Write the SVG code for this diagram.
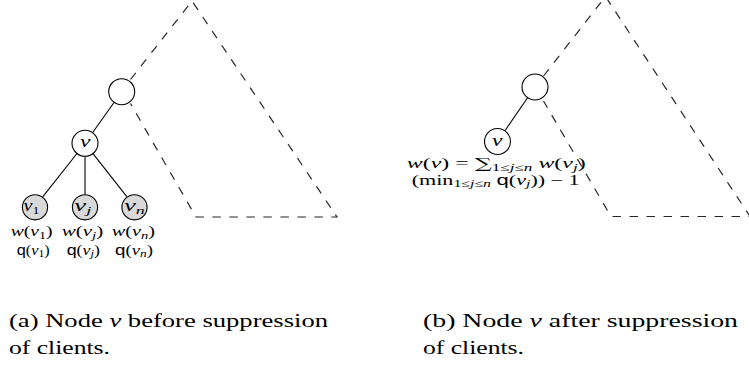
<svg xmlns="http://www.w3.org/2000/svg" width="749" height="366" viewBox="0 0 749 366">
<style>
.solid{stroke:#000;stroke-width:1.1;fill:none}
.dash{stroke:#262626;stroke-width:1.2;fill:none;stroke-dasharray:8.5 8.5}
.node{fill:#fff;stroke:#000;stroke-width:1.1}
.leaf{fill:#d9d9d9;stroke:#000;stroke-width:1.1}
text{font-family:"Liberation Serif","DejaVu Serif",serif;fill:#000}
.i{font-style:italic}
.sf{font-family:"Liberation Sans","DejaVu Sans",sans-serif;font-style:normal}
.lbl{font-size:14px}
.nl{font-size:16px}
.cap{font-size:19px}
</style>
<rect width="749" height="366" fill="#fff"/>
<g id="connectors">
  <path class="dash" d="M130.5,79.5 L192,1 L337,217 L196,217 L130.5,103.5"/>
  <path class="dash" d="M543.5,76 L605.5,-3.5 L750,216.5 L611,216.5 L543.5,101"/>
  <line class="solid" x1="114.2" y1="102.3" x2="92.5" y2="132.7"/>
  <line class="solid" x1="77" y1="153.5" x2="42.7" y2="196.8"/>
  <line class="solid" x1="85" y1="156.3" x2="85" y2="194.5"/>
  <line class="solid" x1="93" y1="153.6" x2="126.8" y2="196.7"/>
  <line class="solid" x1="527.6" y1="97.7" x2="504.9" y2="130.8"/>
</g>
<g id="a-parent"><circle class="node" cx="121.7" cy="91.7" r="13"/></g>
<g id="a-v">
  <circle class="node" cx="85" cy="143.3" r="13"/>
  <text class="nl i" x="80" y="147.3" textLength="10.5" lengthAdjust="spacingAndGlyphs">v</text>
</g>
<g id="a-v1">
  <circle class="leaf" cx="35" cy="207.3" r="12.6"/>
  <text class="nl" x="23.5" y="211" textLength="16" lengthAdjust="spacingAndGlyphs"><tspan class="i">v</tspan><tspan font-size="11" dy="2.5">1</tspan></text>
  <text class="lbl" x="10.7" y="236" textLength="42" lengthAdjust="spacingAndGlyphs"><tspan class="i">w</tspan>(<tspan class="i">v</tspan><tspan font-size="10" dy="2.5">1</tspan><tspan dy="-2.5">)</tspan></text>
  <text class="lbl" x="16.7" y="254.5" textLength="33" lengthAdjust="spacingAndGlyphs"><tspan class="sf">q</tspan>(<tspan class="i">v</tspan><tspan font-size="10" dy="2.5">1</tspan><tspan dy="-2.5">)</tspan></text>
</g>
<g id="a-vj">
  <circle class="leaf" cx="85" cy="207.3" r="12.6"/>
  <text class="nl" x="74.3" y="211" textLength="17" lengthAdjust="spacingAndGlyphs"><tspan class="i">v</tspan><tspan font-size="11" class="i" dy="2.5">j</tspan></text>
  <text class="lbl" x="61.7" y="236" textLength="41.6" lengthAdjust="spacingAndGlyphs"><tspan class="i">w</tspan>(<tspan class="i">v</tspan><tspan font-size="10" class="i" dy="2.5">j</tspan><tspan dy="-2.5">)</tspan></text>
  <text class="lbl" x="66.7" y="254.5" textLength="33.3" lengthAdjust="spacingAndGlyphs"><tspan class="sf">q</tspan>(<tspan class="i">v</tspan><tspan font-size="10" class="i" dy="2.5">j</tspan><tspan dy="-2.5">)</tspan></text>
</g>
<g id="a-vn">
  <circle class="leaf" cx="134.5" cy="207.3" r="12.6"/>
  <text class="nl" x="124.3" y="211" textLength="20.5" lengthAdjust="spacingAndGlyphs"><tspan class="i">v</tspan><tspan font-size="11" class="i" dy="2.5">n</tspan></text>
  <text class="lbl" x="111.7" y="236" textLength="43.3" lengthAdjust="spacingAndGlyphs"><tspan class="i">w</tspan>(<tspan class="i">v</tspan><tspan font-size="10" class="i" dy="2.5">n</tspan><tspan dy="-2.5">)</tspan></text>
  <text class="lbl" x="115" y="254.5" textLength="38" lengthAdjust="spacingAndGlyphs"><tspan class="sf">q</tspan>(<tspan class="i">v</tspan><tspan font-size="10" class="i" dy="2.5">n</tspan><tspan dy="-2.5">)</tspan></text>
</g>
<g id="b-parent"><circle class="node" cx="535" cy="87" r="13"/></g>
<g id="b-v">
  <circle class="node" cx="497.5" cy="141.5" r="13"/>
  <text class="nl i" x="492" y="146" textLength="10.5" lengthAdjust="spacingAndGlyphs">v</text>
  <text class="lbl" x="406.7" y="168" textLength="179" lengthAdjust="spacingAndGlyphs"><tspan class="i">w</tspan>(<tspan class="i">v</tspan>) = <tspan font-family="DejaVu Serif">∑</tspan><tspan font-size="10" dy="2.5">1≤</tspan><tspan font-size="10" class="i">j</tspan><tspan font-size="10">≤</tspan><tspan font-size="10" class="i">n</tspan><tspan dy="-2.5"> </tspan><tspan class="i">w</tspan>(<tspan class="i">v</tspan><tspan font-size="10" class="i" dy="2.5">j</tspan><tspan dy="-2.5">)</tspan></text>
  <text class="lbl" x="411.7" y="184.5" textLength="168" lengthAdjust="spacingAndGlyphs">(min<tspan font-size="10" dy="2.5">1≤</tspan><tspan font-size="10" class="i">j</tspan><tspan font-size="10">≤</tspan><tspan font-size="10" class="i">n</tspan><tspan dy="-2.5"> </tspan><tspan class="sf">q</tspan>(<tspan class="i">v</tspan><tspan font-size="10" class="i" dy="2.5">j</tspan><tspan dy="-2.5">)) − 1</tspan></text>
</g>
<g id="captions">
  <text class="cap" x="9" y="327" textLength="319" lengthAdjust="spacingAndGlyphs">(a) Node <tspan class="i">v</tspan> before suppression</text>
  <text class="cap" x="9" y="354" textLength="101" lengthAdjust="spacingAndGlyphs">of clients.</text>
  <text class="cap" x="423" y="327" textLength="315" lengthAdjust="spacingAndGlyphs">(b) Node <tspan class="i">v</tspan> after suppression</text>
  <text class="cap" x="423" y="354" textLength="101" lengthAdjust="spacingAndGlyphs">of clients.</text>
</g>
</svg>
